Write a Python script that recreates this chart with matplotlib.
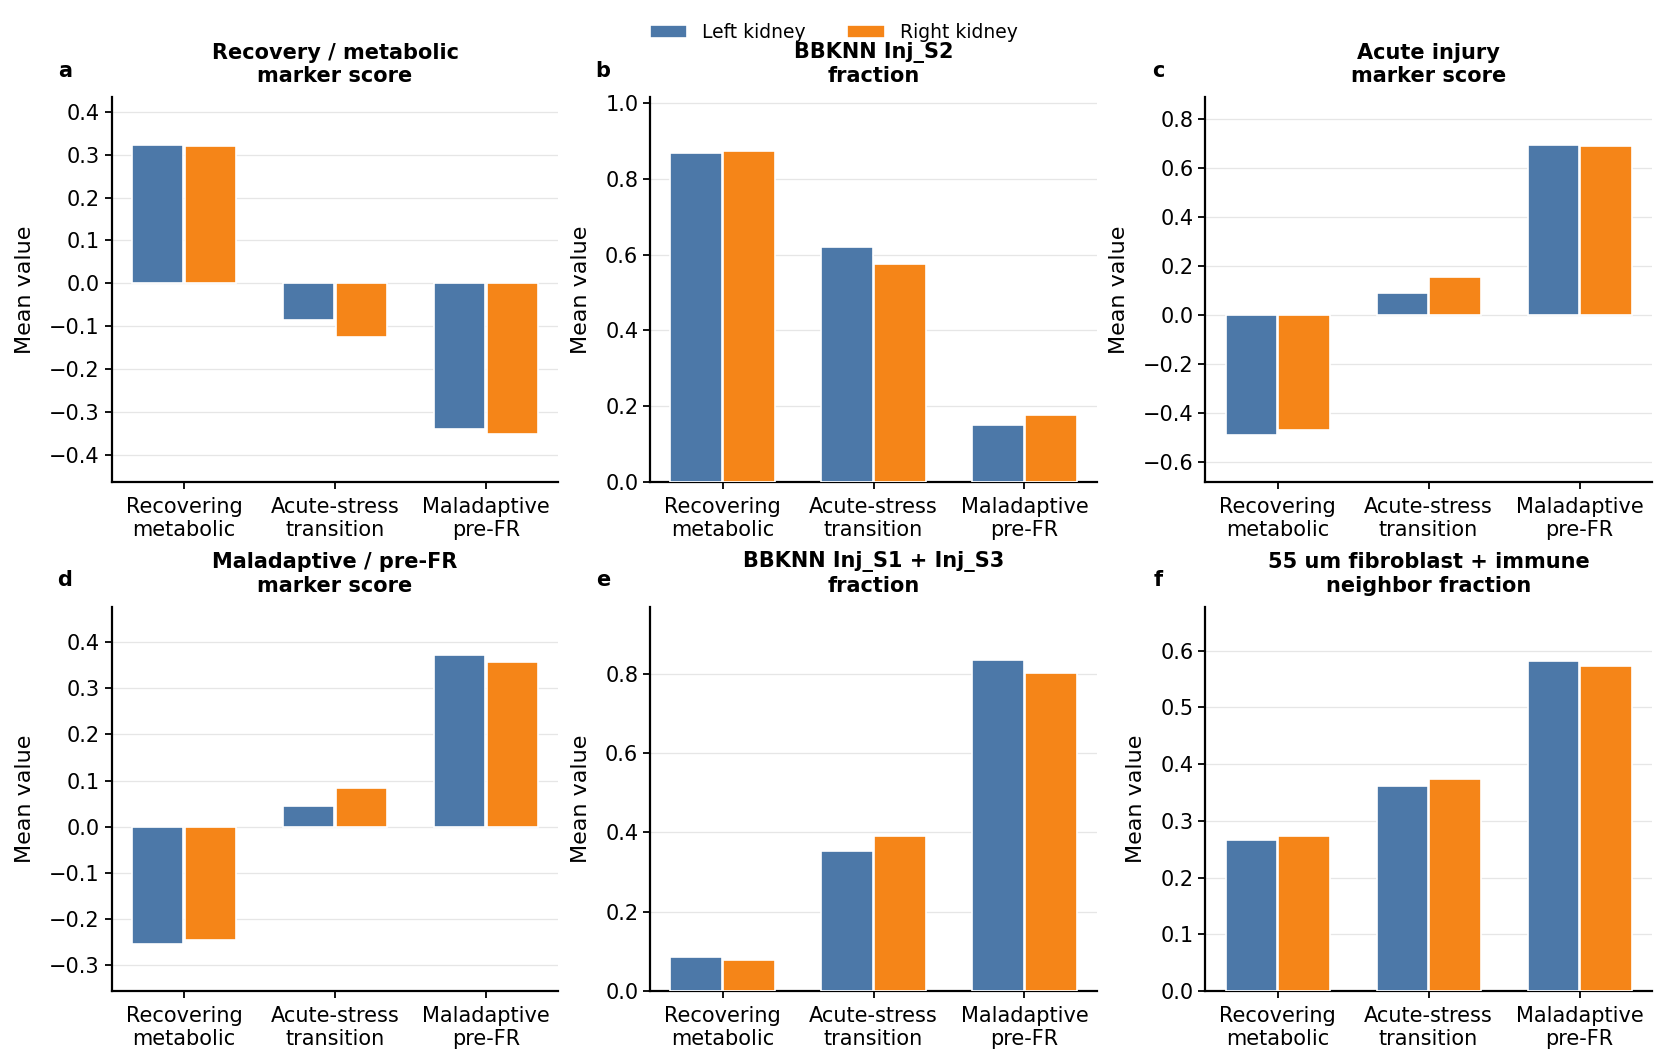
import matplotlib
matplotlib.use("Agg")
import matplotlib.pyplot as plt
import numpy as np

categories = ["Recovering\nmetabolic", "Acute-stress\ntransition", "Maladaptive\npre-FR"]
series_names = ["Left kidney", "Right kidney"]
colors = ["#4c78a8", "#f58518"]

titles = [
    "Recovery / metabolic\nmarker score",
    "BBKNN Inj_S2\nfraction",
    "Acute injury\nmarker score",
    "Maladaptive / pre-FR\nmarker score",
    "BBKNN Inj_S1 + Inj_S3\nfraction",
    "55 um fibroblast + immune\nneighbor fraction",
]
letters = ["a", "b", "c", "d", "e", "f"]

left_a = [0.323, -0.086, -0.341]
right_a = [0.320, -0.126, -0.352]
left_b = [0.868, 0.620, 0.150]
right_b = [0.874, 0.576, 0.176]
left_c = [-0.489, 0.089, 0.695]
right_c = [-0.469, 0.155, 0.691]
left_d = [-0.254, 0.045, 0.373]
right_d = [-0.247, 0.084, 0.357]
left_e = [0.085, 0.353, 0.833]
right_e = [0.079, 0.390, 0.801]
left_f = [0.266, 0.361, 0.582]
right_f = [0.274, 0.374, 0.573]

panels = [
    (left_a, right_a, (-0.463, 0.434)),
    (left_b, right_b, (0.0, 1.015)),
    (left_c, right_c, (-0.681, 0.890)),
    (left_d, right_d, (-0.357, 0.477)),
    (left_e, right_e, (0.0, 0.968)),
    (left_f, right_f, (0.0, 0.677)),
]

fig = plt.figure(figsize=(16.67, 10.64), dpi=100)
lefts = [0.067, 0.390, 0.723]
bottoms = [0.5474, 0.0686]
w, h = 0.268, 0.361

x = np.arange(len(categories))
off = 0.175
bw = 0.34
handles = []
for i, (lv, rv, yl) in enumerate(panels):
    ax = fig.add_axes([lefts[i % 3], bottoms[i // 3], w, h])
    b1 = ax.bar(x - off, lv, bw, color=colors[0], edgecolor="white", linewidth=1.2, zorder=3)
    b2 = ax.bar(x + off, rv, bw, color=colors[1], edgecolor="white", linewidth=1.2, zorder=3)
    if i == 0:
        handles = [b1, b2]
    ax.set_ylim(*yl)
    ax.set_xticks(x)
    ax.set_xticklabels(categories, fontsize=15)
    ax.tick_params(axis="y", labelsize=15, width=1.3, length=5)
    ax.tick_params(axis="x", width=1.3, length=5, pad=6)
    ax.yaxis.grid(True, color="#e6e6e6", linewidth=0.9)
    ax.set_axisbelow(True)
    for s in ["top", "right"]:
        ax.spines[s].set_visible(False)
    for s in ["left", "bottom"]:
        ax.spines[s].set_linewidth(1.6)
    ax.set_ylabel("Mean value", fontsize=16, labelpad=10)
    ax.set_title(titles[i], fontsize=15, fontweight="bold", pad=11)
    ax.text(-0.105, 1.07, letters[i], transform=ax.transAxes, fontsize=15,
            fontweight="bold", ha="center", va="center")

fig.legend(handles, series_names, loc="center", bbox_to_anchor=(0.5, 0.969), ncol=2,
           frameon=False, fontsize=13.5, handlelength=2.0, columnspacing=2.2)

fig.savefig("out.png", dpi=100)
